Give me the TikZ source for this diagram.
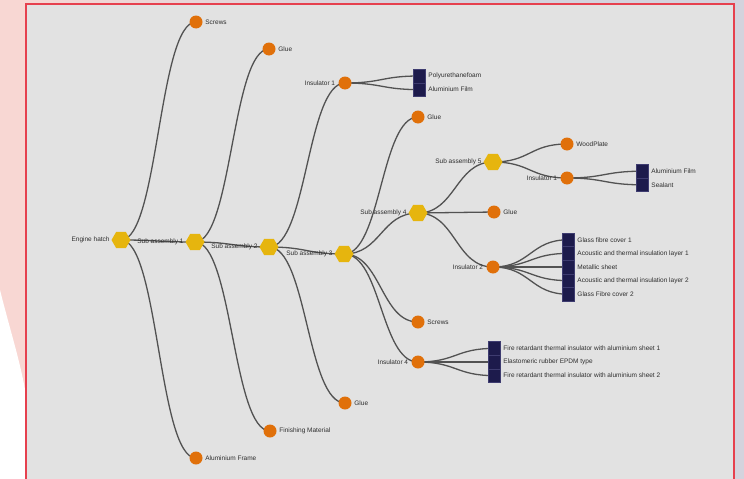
\documentclass[tikz,border=0pt]{standalone}
\usepackage{fontspec}
\setmainfont{Liberation Sans}
\usetikzlibrary{shapes.geometric,calc}
\pgfdeclarelayer{bg}\pgfdeclarelayer{edges}\pgfsetlayers{bg,edges,main}
\definecolor{hexY}{HTML}{E6B50E}
\definecolor{leafO}{HTML}{E0700A}
\definecolor{navy}{HTML}{1D1B4C}
\definecolor{navyB}{HTML}{3E3C70}
\definecolor{edgeC}{HTML}{525252}
\definecolor{txt}{HTML}{2E2E2E}
\definecolor{panel}{HTML}{E2E2E2}
\definecolor{lav}{HTML}{D4D3DD}
\definecolor{pinkish}{HTML}{F8D7D3}
\definecolor{frameR}{HTML}{E6404E}
\newcommand\treelink[2]{\draw[conn] let \p1=(#1.center),\p2=(#2.center) in (\p1) .. controls ({(\x1+\x2)/2},\y1) and ({(\x1+\x2)/2},\y2) .. (\p2);}
\begin{document}
\begin{tikzpicture}[x=1pt,y=-1pt,
 hexnode/.style={regular polygon,regular polygon sides=6,fill=hexY,minimum size=19pt,inner sep=0pt},
 leaf/.style={circle,fill=leafO,minimum size=13pt,inner sep=0pt},
 part/.style={rectangle,fill=navy,draw=navyB,line width=0.5pt,minimum width=12pt,minimum height=13.6pt,inner sep=0pt},
 lbl/.style={font=\fontsize{6.5}{7}\selectfont,text=txt,inner sep=0.5pt},
 conn/.style={draw=edgeC,line width=1.3pt},
 lleft/.style={label={[lbl,label distance=1pt]left:#1}},
 lright/.style={label={[lbl,label distance=2pt]right:#1}},
 pright/.style={label={[lbl,label distance=2.5pt]right:#1}},
]
\begin{pgfonlayer}{bg}
\useasboundingbox (0,0) rectangle (744,479);
\fill[lav] (0,0) rectangle (744,479);
\shade[left color=pinkish,right color=lav] (0,0) rectangle (420,4);
\fill[pinkish] (0,0) rectangle (26,479);
\fill[white] (0,290) .. controls (10,330) and (20,360) .. (26,395) -- (26,479) -- (0,479) -- cycle;
\fill[panel] (26,4) rectangle (734,490);
\draw[frameR,line width=1.5pt] (26,4) rectangle (734,490);
\end{pgfonlayer}

% internal hex nodes
\node[hexnode,lleft={Engine hatch}] (eh) at (121,240) {};
\node[hexnode,lleft={Sub assembly 1}] (s1) at (195,242) {};
\node[hexnode,lleft={Sub assembly 2}] (s2) at (269,247) {};
\node[hexnode,lleft={Sub assembly 3}] (s3) at (344,254) {};
\node[hexnode,lleft={Sub assembly 4}] (s4) at (418,213) {};
\node[hexnode,lleft={Sub assembly 5}] (s5) at (493,162) {};

% leaves
\node[leaf,lright={Screws}] (screwsA) at (196,22) {};
\node[leaf,lright={Aluminium Frame}] (frame) at (196,458) {};
\node[leaf,lright={Glue}] (glueA) at (269,49) {};
\node[leaf,lright={Finishing Material}] (finish) at (270,431) {};
\node[leaf,label={[lbl,label distance=2.5pt]left:Insulator 1}] (ins1) at (345,83) {};
\node[leaf,lright={Glue}] (glueB) at (345,403) {};
\node[leaf,lright={Glue}] (glueC) at (418,117) {};
\node[leaf,lright={Screws}] (screwsB) at (418,322) {};
\node[leaf,label={[lbl,label distance=2.5pt]left:Insulator 4}] (ins4) at (418,362) {};
\node[leaf,lright={Glue}] (glueD) at (494,212) {};
\node[leaf,label={[lbl,label distance=2.5pt]left:Insulator 2}] (ins2) at (493,267) {};
\node[leaf,lright={WoodPlate}] (wood) at (567,144) {};
\node[leaf,label={[lbl,label distance=2.5pt]left:Insulator 1}] (ins1b) at (567,178) {};

% parts
\node[part,pright={Polyurethanefoam}] (pu) at (419,76) {};
\node[part,pright={Aluminium Film}] (af1) at (419,89.6) {};
\node[part,pright={Fire retardant thermal insulator with aluminium sheet 1}] (f1) at (494,348.4) {};
\node[part,pright={Elastomeric rubber EPDM type}] (ep) at (494,362) {};
\node[part,pright={Fire retardant thermal insulator with aluminium sheet 2}] (f2) at (494,375.6) {};
\node[part,pright={Glass fibre cover 1}] (g1) at (568,239.8) {};
\node[part,pright={Acoustic and thermal insulation layer 1}] (a1) at (568,253.4) {};
\node[part,pright={Metallic sheet}] (ms) at (568,267) {};
\node[part,pright={Acoustic and thermal insulation layer 2}] (a2) at (568,280.6) {};
\node[part,pright={Glass Fibre cover 2}] (g2) at (568,294.2) {};
\node[part,pright={Aluminium Film}] (af2) at (642,171.2) {};
\node[part,pright={Sealant}] (seal) at (642,184.8) {};

\begin{pgfonlayer}{edges}
\treelink{eh}{screwsA}
\treelink{eh}{s1}
\treelink{eh}{frame}
\treelink{s1}{glueA}
\treelink{s1}{s2}
\treelink{s1}{finish}
\treelink{s2}{ins1}
\treelink{s2}{s3}
\treelink{s2}{glueB}
\treelink{ins1}{pu}
\treelink{ins1}{af1}
\treelink{s3}{glueC}
\treelink{s3}{s4}
\treelink{s3}{screwsB}
\treelink{s3}{ins4}
\treelink{ins4}{f1}
\treelink{ins4}{ep}
\treelink{ins4}{f2}
\treelink{s4}{s5}
\treelink{s4}{glueD}
\treelink{s4}{ins2}
\treelink{ins2}{g1}
\treelink{ins2}{a1}
\treelink{ins2}{ms}
\treelink{ins2}{a2}
\treelink{ins2}{g2}
\treelink{s5}{wood}
\treelink{s5}{ins1b}
\treelink{ins1b}{af2}
\treelink{ins1b}{seal}
\end{pgfonlayer}
\end{tikzpicture}
\end{document}
